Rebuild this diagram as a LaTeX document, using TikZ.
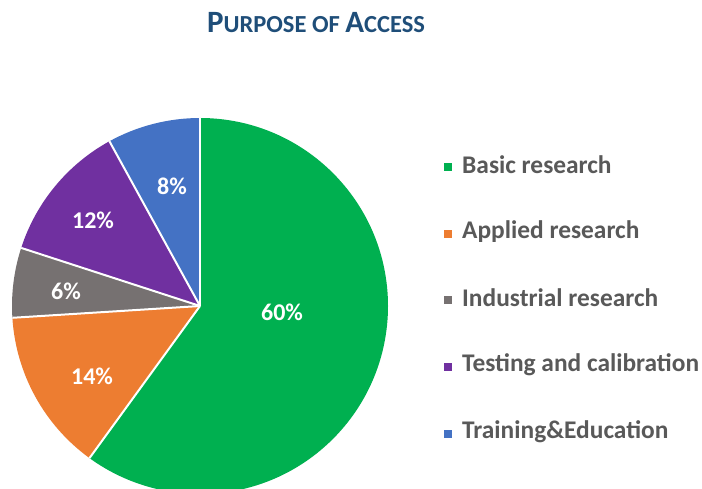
\documentclass[tikz,border=0pt]{standalone}
\usepackage{fontspec}
\setmainfont{Carlito}
\definecolor{cgreen}{HTML}{00B050}
\definecolor{corange}{HTML}{ED7D31}
\definecolor{cgray}{HTML}{767171}
\definecolor{cpurple}{HTML}{7030A0}
\definecolor{cblue}{HTML}{4472C4}
\definecolor{ctitle}{HTML}{1F4E79}
\definecolor{ctext}{HTML}{595959}
\tikzset{
  slice/.style={draw=white, line width=2pt, line join=round},
  pct/.style={text=white, font=\fontsize{24}{28}\selectfont\bfseries, inner sep=0pt},
  leg/.style={text=ctext, font=\fontsize{25.4}{28}\selectfont\bfseries, anchor=west, inner sep=0pt},
  legbox/.style={minimum size=8pt, inner sep=0pt}
}
\begin{document}
\begin{tikzpicture}[x=1pt,y=1pt]
\useasboundingbox (0,0) rectangle (702,488);
\clip (0,0) rectangle (702,488);
\fill[white] (0,0) rectangle (702,488);
\coordinate (c) at (200,182);
\def\R{188}
\fill[cgreen]  (c) -- ++(90:\R) arc (90:-126:\R) -- cycle;
\fill[corange] (c) -- ++(-126:\R) arc (-126:-176.4:\R) -- cycle;
\fill[cgray]   (c) -- ++(-176.4:\R) arc (-176.4:-198:\R) -- cycle;
\fill[cpurple] (c) -- ++(-198:\R) arc (-198:-241.2:\R) -- cycle;
\fill[cblue]   (c) -- ++(-241.2:\R) arc (-241.2:-270:\R) -- cycle;
\foreach \a in {90,-126,-176.4,-198,-241.2}
  \draw[slice] (c) -- ++(\a:\R);
\node[pct] (p60) at (282,176) {60\%};
\node[pct] (p14) at (92,112) {14\%};
\node[pct] (p6)  at (66,197) {6\%};
\node[pct] (p12) at (93,268) {12\%};
\node[pct] (p8)  at (172,302) {8\%};
\node[text=ctitle, inner sep=0pt, anchor=base] (title) at (316,455)
  {\bfseries\fontsize{31}{34}\selectfont P\fontsize{24.5}{28}\selectfont URPOSE OF \fontsize{31}{34}\selectfont A\fontsize{24.5}{28}\selectfont CCESS};
\foreach \y/\col/\txt/\nm in {321/cgreen/Basic research/l1, 254/corange/Applied research/l2, 188/cgray/Industrial research/l3, 121/cpurple/Testing and calibration/l4, 54/cblue/Training\&Education/l5}{
  \node[legbox, fill=\col] (\nm b) at (448,\y) {};
  \node[leg] (\nm) at (462,\y+2) {\txt};
}
\end{tikzpicture}
\end{document}
